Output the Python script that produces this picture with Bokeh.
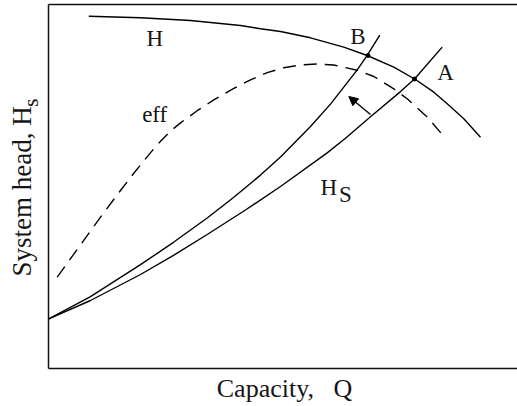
from bokeh.plotting import figure
from bokeh.models import Range1d, Label, Arrow, NormalHead
from bokeh.embed import file_html
from bokeh.resources import INLINE

# Pump head curve H (capacity, head) in arbitrary units
h_q = [40.3, 92, 142, 192, 212, 232, 262, 295.3, 318.7, 345.3, 367, 385.3, 398.7, 415.3, 432]
h_h = [352.3, 350.7, 348, 343, 339.7, 337, 330.7, 321.3, 313, 301.3, 289, 276.3, 264.7, 249.7, 231.3]

# Efficiency curve (dashed)
eff_q = [8.7, 30.3, 52, 72, 85.3, 95.3, 105.3, 112, 118.7, 125.3, 132, 148.7, 165.3, 185.3,
         202, 218.7, 235.3, 252, 268.7, 285.3, 308.7, 325.3, 345.3, 358.7, 378.7, 393.7]
eff_v = [91.3, 121.3, 151.3, 178, 195.2, 207.7, 219.7, 227.2, 234, 240.1, 245.6, 257.8, 268.6, 280.2,
         288.7, 295.8, 300.8, 303.5, 304.5, 303.5, 298.3, 292, 279.7, 269.7, 251.5, 234]

# System curve A (Hs)
a_q = [0.3, 42, 92, 125, 158.7, 197, 232, 278.7, 297, 322, 352, 366, 393.7]
a_h = [49.7, 68, 94, 113.1, 134, 158.5, 182, 215.6, 230.2, 251.7, 276.9, 289.5, 321.4]

# System curve B (throttled)
b_q = [0.3, 42, 92, 125, 158.7, 185, 212, 232, 262, 282, 308.7, 318.7, 331.3]
b_h = [49.7, 71.8, 103.8, 126.2, 150.5, 171, 193.4, 211.4, 242, 264.4, 298.6, 313.1, 333.3]

# Operating points (B, A)
op_q = [319.5, 366]
op_h = [313, 289.5]

# Plot box (axis extents)
box_q0, box_q1 = 0, 469
box_h0, box_h1 = 0, 364

p = figure(width=517, height=406, output_backend="svg", toolbar_location=None,
           x_axis_type=None, y_axis_type=None,
           x_range=Range1d(-48, 469), y_range=Range1d(-38, 368),
           min_border_left=0, min_border_right=0, min_border_top=0, min_border_bottom=0)
p.outline_line_color = None
p.background_fill_color = "white"
p.border_fill_color = "white"

LW = 1.4
BOX = "#111111"
p.segment(x0=[box_q0, box_q0, box_q0], y0=[box_h0, box_h1, box_h0],
          x1=[box_q0, box_q1, box_q1], y1=[box_h1, box_h1, box_h0],
          line_color=BOX, line_width=1.5)

p.line(h_q, h_h, line_color="black", line_width=LW)
p.line(eff_q, eff_v, line_color="black", line_width=LW, line_dash="13 8")
p.line(a_q, a_h, line_color="black", line_width=LW)
p.line(b_q, b_h, line_color="black", line_width=LW)
p.scatter(op_q, op_h, size=4, color="black")

p.add_layout(Arrow(end=NormalHead(size=9, fill_color="black", line_color="black"),
                   x_start=322, y_start=254, x_end=300.3, y_end=272,
                   line_color="black", line_width=LW))

FONT = "Liberation Serif"
COL = "#151515"

def lab(x, y, t, size, align="center", angle=0):
    p.add_layout(Label(x=x, y=y, text=t, text_font=FONT, text_font_size=size,
                       text_align=align, text_baseline="alphabetic", text_color=COL,
                       angle=angle, angle_units="deg"))

lab(106.3, 329.8, "H", "23px")
lab(106.2, 253.8, "eff", "23px")
lab(309.3, 332.5, "B", "23px")
lab(397, 295.8, "A", "23px")
lab(272, 181.5, "H", "23px", align="left")
lab(290.6, 174.2, "S", "23px", align="left")

lab(236, -19.8, "Capacity, \u00a0 Q", "26px")
lab(-26.3, 92, "System head, H", "27px", align="left", angle=90)
lab(-17.7, 261.5, "s", "22px", align="left", angle=90)

open("out.html", "w").write(file_html(p, INLINE))
